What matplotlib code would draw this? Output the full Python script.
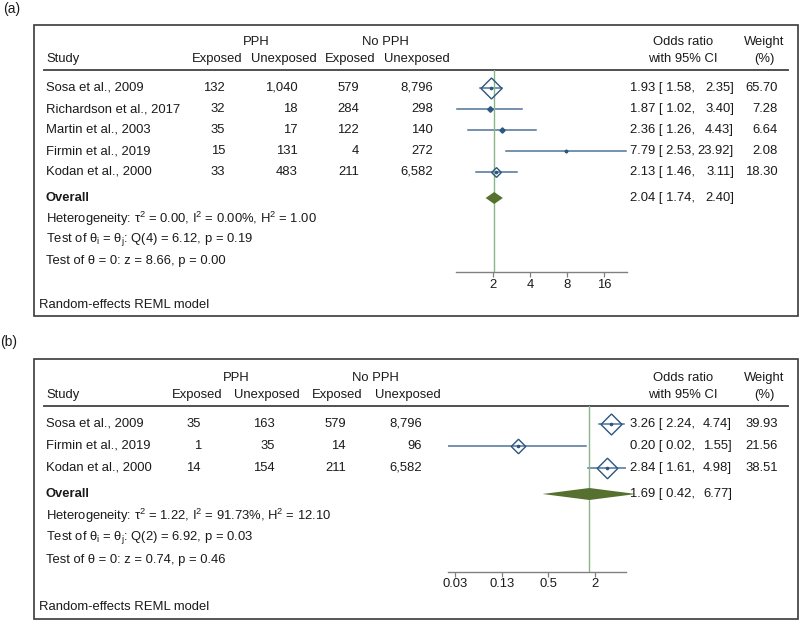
import matplotlib
matplotlib.use('Agg')
import matplotlib.pyplot as plt
from matplotlib.patches import Rectangle
from matplotlib.ticker import NullLocator, FixedLocator, FixedFormatter

plt.rcParams['font.family'] = ['Liberation Sans', 'DejaVu Sans']
plt.rcParams['mathtext.fontset'] = 'custom'
plt.rcParams['mathtext.rm'] = 'Liberation Sans'
plt.rcParams['mathtext.it'] = 'Liberation Sans:italic'
plt.rcParams['mathtext.bf'] = 'Liberation Sans:bold'

# ---- panel (a) data ----
studies_a = ['Sosa et al., 2009', 'Richardson et al., 2017', 'Martin et al., 2003',
             'Firmin et al., 2019', 'Kodan et al., 2000']
pph_exp_a = [132, 32, 35, 15, 33]
pph_unexp_a = [1040, 18, 17, 131, 483]
nopph_exp_a = [579, 284, 122, 4, 211]
nopph_unexp_a = [8796, 298, 140, 272, 6582]
or_a = [1.93, 1.87, 2.36, 7.79, 2.13]
lo_a = [1.58, 1.02, 1.26, 2.53, 1.46]
hi_a = [2.35, 3.40, 4.43, 23.92, 3.11]
weight_a = [65.70, 7.28, 6.64, 2.08, 18.30]
overall_a = [2.04, 1.74, 2.40]
stats_a = [r'Heterogeneity: τ$^2$ = 0.00, I$^2$ = 0.00%, H$^2$ = 1.00',
           r'Test of θ$_\mathrm{i}$ = θ$_\mathrm{j}$: Q(4) = 6.12, p = 0.19',
           'Test of θ = 0: z = 8.66, p = 0.00']
ticks_a = [2, 4, 8, 16]
ticklabels_a = ['2', '4', '8', '16']

# ---- panel (b) data ----
studies_b = ['Sosa et al., 2009', 'Firmin et al., 2019', 'Kodan et al., 2000']
pph_exp_b = [35, 1, 14]
pph_unexp_b = [163, 35, 154]
nopph_exp_b = [579, 14, 211]
nopph_unexp_b = [8796, 96, 6582]
or_b = [3.26, 0.20, 2.84]
lo_b = [2.24, 0.02, 1.61]
hi_b = [4.74, 1.55, 4.98]
weight_b = [39.93, 21.56, 38.51]
overall_b = [1.69, 0.42, 6.77]
stats_b = [r'Heterogeneity: τ$^2$ = 1.22, I$^2$ = 91.73%, H$^2$ = 12.10',
           r'Test of θ$_\mathrm{i}$ = θ$_\mathrm{j}$: Q(2) = 6.92, p = 0.03',
           'Test of θ = 0: z = 0.74, p = 0.46']
ticks_b = [0.03125, 0.125, 0.5, 2]
ticklabels_b = ['0.03', '0.13', '0.5', '2']

FS = 9.4
TXT = '#1a1a1a'
CI_COL = '#4f7398'
MK_COL = '#2b5680'
OV_COL = '#56702f'
REF_COL = '#8ab58a'
W, H = 800, 620

fig = plt.figure(figsize=(8, 6.2), dpi=100)
page = fig.add_axes([0, 0, 1, 1])
page.set_xlim(0, W)
page.set_ylim(H, 0)
page.axis('off')


def txt(x, y, s, ha='left', size=FS, **kw):
    page.text(x, y, s, ha=ha, va='center', fontsize=size, color=TXT, **kw)


def panel(label, L, studies, c1, c2, c3, c4, est, lo, hi, wt, overall, stats,
          ticks, ticklabels):
    txt(L['label_x'], L['label_y'], label, size=10)
    page.add_patch(Rectangle((34, L['box_top']), 798 - 34, L['box_bot'] - L['box_top'],
                             fill=False, lw=1.2, ec='#3a3a3a'))
    y0, step = L['y0'], L['step']
    # header
    hy1, hy2 = y0 - 46, y0 - 29
    txt(L['pph'], hy1, 'PPH', ha='center')
    txt(L['nopph'], hy1, 'No PPH', ha='center')
    txt(683, hy1, 'Odds ratio', ha='center')
    txt(764, hy1, 'Weight', ha='center')
    txt(46, hy2, 'Study')
    for xc, s in zip(L['hdr'], ['Exposed', 'Unexposed', 'Exposed', 'Unexposed']):
        txt(xc, hy2, s, ha='center')
    txt(683, hy2, 'with 95% CI', ha='center')
    txt(764, hy2, '(%)', ha='center')
    line_y = y0 - 18
    page.plot([44, 788], [line_y, line_y], color='#505050', lw=1.4)

    rows = [y0 + i * step for i in range(len(studies))]
    for i, y in enumerate(rows):
        txt(46, y, studies[i])
        for xr, col in zip(L['cols'], [c1, c2, c3, c4]):
            txt(xr, y, f'{col[i]:,}', ha='right')
        txt(630, y, f'{est[i]:.2f} [ {lo[i]:.2f},')
        txt(L['hi_x'], y, f'{hi[i]:.2f}]', ha='right')
        txt(778, y, f'{wt[i]:.2f}', ha='right')
    oy = rows[-1] + 26
    txt(46, oy, 'Overall', fontweight='bold')
    txt(630, oy, f'{overall[0]:.2f} [ {overall[1]:.2f},')
    txt(L['hi_x'], oy, f'{overall[2]:.2f}]', ha='right')
    for k, s in enumerate(stats):
        txt(46, oy + (k + 1) * step, s)
    axis_y = oy + 3 * step + 11.5
    txt(39, L['model_y'], 'Random-effects REML model')

    # forest plot area (y in page pixels)
    x0, x1 = L['fx']
    ax = fig.add_axes([x0 / W, 1 - axis_y / H, (x1 - x0) / W, (axis_y - line_y) / H])
    ax.patch.set_visible(False)
    ax.set_xscale('log')
    ax.set_xlim(*L['xlim'])
    ax.set_ylim(axis_y, line_y)
    for sp in ['top', 'left', 'right']:
        ax.spines[sp].set_visible(False)
    ax.spines['bottom'].set_color('#808080')
    ax.spines['bottom'].set_linewidth(1.0)
    ax.xaxis.set_major_locator(FixedLocator(ticks))
    ax.xaxis.set_major_formatter(FixedFormatter(ticklabels))
    ax.xaxis.set_minor_locator(NullLocator())
    ax.tick_params(axis='x', direction='out', length=3.5, width=0.9, color='#808080',
                   labelsize=FS, labelcolor=TXT, pad=1.0)
    ax.set_yticks([])

    ax.axvline(overall[0], color=REF_COL, lw=1.0, zorder=3)
    wmax = max(wt)
    for i, y in enumerate(rows):
        ax.plot([lo[i], hi[i]], [y, y], color=CI_COL, lw=1.1, zorder=2)
        size_px = 21 * (wt[i] / wmax) ** 0.6
        ax.plot(est[i], y, marker=(4, 0, 0), ms=size_px * 0.72, mfc='none',
                mec=MK_COL, mew=1.0, zorder=4)
        ax.plot(est[i], y, 'o', ms=1.6, color=MK_COL, zorder=4)
    ax.fill([overall[1], overall[0], overall[2], overall[0]],
            [oy, oy - 6, oy, oy + 6], color=OV_COL, clip_on=False, zorder=5, lw=0)


layout_a = dict(label_x=3, label_y=9, box_top=25, box_bot=316, y0=88, step=21,
                pph=256, nopph=385, hdr=[217, 284, 350, 417],
                cols=[225, 298, 359, 433], hi_x=734, model_y=305,
                fx=(456, 627), xlim=(1.0, 24.4))
layout_b = dict(label_x=0, label_y=342, box_top=359, box_bot=619, y0=424, step=22,
                pph=236, nopph=375, hdr=[197, 267, 337, 408],
                cols=[201, 275, 346, 422], hi_x=732, model_y=607,
                fx=(448, 626), xlim=(0.0252, 5.03))

panel('(a)', layout_a, studies_a, pph_exp_a, pph_unexp_a, nopph_exp_a, nopph_unexp_a,
      or_a, lo_a, hi_a, weight_a, overall_a, stats_a, ticks_a, ticklabels_a)
panel('(b)', layout_b, studies_b, pph_exp_b, pph_unexp_b, nopph_exp_b, nopph_unexp_b,
      or_b, lo_b, hi_b, weight_b, overall_b, stats_b, ticks_b, ticklabels_b)

fig.savefig('out.png', dpi=100)
